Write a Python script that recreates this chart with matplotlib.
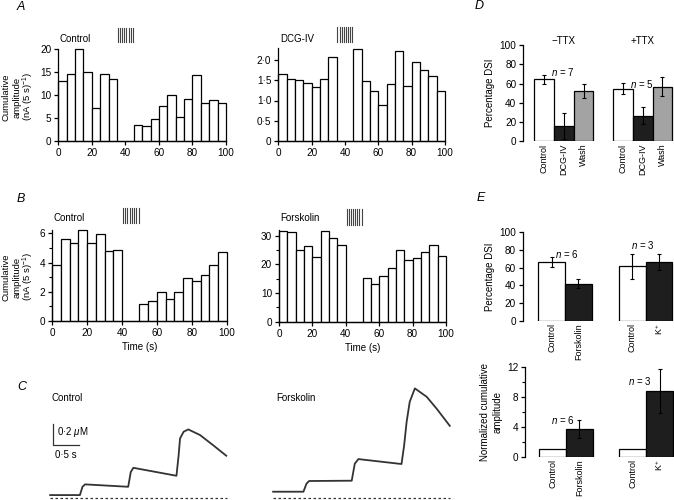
import numpy as np
import matplotlib
matplotlib.use("Agg")
import matplotlib.pyplot as plt
from matplotlib.ticker import FixedLocator

plt.rcParams['font.family'] = ['Liberation Sans', 'DejaVu Sans']
plt.rcParams['mathtext.fontset'] = 'custom'
plt.rcParams['mathtext.rm'] = 'Liberation Sans'
plt.rcParams['mathtext.it'] = 'Liberation Sans:italic'
plt.rcParams['mathtext.default'] = 'regular'

# ---------------- data ----------------
bin_starts = [0, 5, 10, 15, 20, 25, 30, 35, 40, 45, 50, 55, 60, 65, 70, 75, 80, 85, 90, 95]
a_control = [13.0, 14.6, 20.0, 15.0, 7.2, 14.5, 13.5, 0, 0, 3.5, 3.2, 4.7, 7.6, 10.0, 5.3, 9.0, 14.4, 8.2, 8.9, 8.2]
a_dcg = [1.65, 1.54, 1.50, 1.43, 1.33, 1.52, 2.08, 0, 0, 2.28, 1.47, 1.23, 0.89, 1.40, 2.21, 1.36, 1.94, 1.75, 1.60, 1.24]
b_control = [3.83, 5.59, 5.32, 6.20, 5.34, 5.98, 4.79, 4.88, 0, 0, 1.14, 1.35, 2.00, 1.48, 1.96, 2.92, 2.71, 3.17, 3.81, 4.72]
b_forsk = [31.6, 31.4, 25.0, 26.5, 22.7, 31.6, 29.1, 26.9, 0, 0, 15.3, 13.0, 15.8, 18.6, 25.1, 21.4, 22.4, 24.4, 26.6, 23.0]
stim_a = [35.5, 36.8, 38.1, 39.4, 40.6, 41.9, 43.2, 44.5]
stim_b = [40.5, 41.8, 43.1, 44.4, 45.6, 46.9, 48.2, 49.5]

d_cats = ['Control', 'DCG-IV', 'Wash']
d_minus = [64.4, 16.0, 52.5]
d_minus_err = [4.5, 13.5, 7.3]
d_plus = [54.6, 26.4, 56.7]
d_plus_err = [5.5, 8.8, 10.1]

e_cats = ['Control', 'Forskolin', 'Control', 'K$^{+}$']
e_dsi = [66.4, 41.9, 61.5, 66.0]
e_dsi_err = [6.0, 5.3, 14.5, 9.0]
e_norm = [1.0, 3.72, 1.05, 8.8]
e_norm_err = [0.0, 1.2, 0.0, 3.0]

c_ctrl_t = [0.10, 0.68, 0.73, 0.78, 1.62, 1.67, 1.72, 2.56, 2.60, 2.63, 2.70, 2.79, 3.02, 3.27, 3.53]
c_ctrl_v = [0.031, 0.031, 0.11, 0.133, 0.110, 0.25, 0.291, 0.215, 0.40, 0.571, 0.635, 0.657, 0.603, 0.508, 0.406]
c_fsk_t = [0.10, 0.69, 0.75, 0.80, 1.63, 1.69, 1.76, 2.60, 2.65, 2.70, 2.76, 2.86, 3.09, 3.28, 3.54]
c_fsk_v = [0.063, 0.063, 0.14, 0.165, 0.168, 0.33, 0.374, 0.327, 0.50, 0.73, 0.92, 1.048, 0.968, 0.857, 0.691]

W, H = 674, 500
fig = plt.figure(figsize=(W / 100, H / 100), dpi=100)

def px_axes(l, t, r, b):
    return fig.add_axes([l / W, 1 - b / H, (r - l) / W, (b - t) / H])

def ftext(x, y, s, **kw):
    fig.text(x / W, 1 - y / H, s, **kw)

TICK = 7.2
LAB = 7
CAT = 6.5
NTXT = '$\\mathit{n}$ = '

def style_hist(ax, ymax, major, minor=None, fmt=None):
    ax.set_xlim(0, 100)
    ax.set_ylim(0, ymax)
    for s in ['top', 'right']:
        ax.spines[s].set_visible(False)
    for s in ['left', 'bottom']:
        ax.spines[s].set_linewidth(0.9)
    ax.set_xticks([0, 20, 40, 60, 80, 100])
    ax.set_yticks(major)
    if fmt:
        ax.set_yticklabels(fmt)
    if minor:
        ax.yaxis.set_minor_locator(FixedLocator(minor))
    ax.tick_params(direction='out', length=3, width=0.9, labelsize=TICK, pad=2)
    ax.tick_params(which='minor', direction='out', length=2, width=0.8)
    ax.patch.set_alpha(0)

def hist(ax, vals):
    ax.bar(bin_starts, vals, width=5, align='edge', color='white', edgecolor='black', linewidth=0.9, clip_on=False)

def stim(ax, times, y0, y1):
    for x in times:
        ax.plot([x, x], [y0, y1], color='#444444', lw=0.8, transform=ax.get_xaxis_transform(), clip_on=False)

# A control
ax = px_axes(58.3, 48.7, 226, 141)
hist(ax, a_control)
style_hist(ax, 20, [0, 5, 10, 15, 20])
stim(ax, stim_a, 1.073, 1.224)
ftext(59, 39, 'Control', fontsize=LAB, va='center')

# A DCG
ax = px_axes(278.3, 47.85, 445, 141)
hist(ax, a_dcg)
style_hist(ax, 2.3, [0, 0.5, 1.0, 1.5, 2.0], fmt=['0', '0·5', '1·0', '1·5', '2·0'])
stim(ax, stim_a, 1.06, 1.221)
ftext(280, 39, 'DCG-IV', fontsize=LAB, va='center')

# B control
ax = px_axes(52.3, 230.4, 226.7, 321)
hist(ax, b_control)
style_hist(ax, 6.2, [0, 2, 4, 6], minor=[1, 3, 5])
stim(ax, stim_b, 1.082, 1.247)
ax.set_xlabel('Time (s)', fontsize=LAB, labelpad=3)
ftext(54, 218.3, 'Control', fontsize=LAB, va='center')

# B forskolin
ax = px_axes(279, 230, 446, 321.7)
hist(ax, b_forsk)
style_hist(ax, 32, [0, 10, 20, 30], minor=[5, 15, 25])
stim(ax, stim_b, 1.058, 1.232)
ax.set_xlabel('Time (s)', fontsize=LAB, labelpad=3)
ftext(280.7, 218.3, 'Forskolin', fontsize=LAB, va='center')

ylab_lines = ['Cumulative', 'amplitude', '(nA (5 s)$^{-1}$)']
for yc in (97, 277):
    for xc, s in zip((6.3, 17.0, 28.5), ylab_lines):
        ftext(xc, yc, s, fontsize=6.8, rotation=90, ha='center', va='center')

# panel letters
for x, y, s in [(20.7, 7, 'A'), (20.7, 199, 'B'), (21.7, 387, 'C'), (479, 6, 'D'), (481, 198, 'E')]:
    ftext(x, y, s, fontsize=9, style='italic', ha='center', va='center')

def style_bar(ax, ymax, major, minor=None):
    ax.set_ylim(0, ymax)
    for s in ['top', 'right', 'bottom']:
        ax.spines[s].set_visible(False)
    ax.spines['left'].set_linewidth(0.9)
    ax.set_yticks(major)
    if minor:
        ax.yaxis.set_minor_locator(FixedLocator(minor))
    ax.tick_params(axis='y', direction='out', length=3, width=0.9, labelsize=TICK, pad=2)
    ax.tick_params(axis='y', which='minor', direction='out', length=2, width=0.8)
    ax.tick_params(axis='x', length=0, labelsize=CAT, pad=2)
    ax.patch.set_alpha(0)

EB = dict(fmt='none', ecolor='black', elinewidth=0.8, capsize=1.5, capthick=0.8)

# D
ax = px_axes(523.3, 45.3, 674, 141)
dcol = ['white', '#1e1e1e', '#a3a3a3']
pos1 = [0.5, 1.5, 2.5]
pos2 = [4.5, 5.5, 6.5]
ax.bar(pos1, d_minus, width=1, color=dcol, edgecolor='black', linewidth=0.9)
ax.bar(pos2, d_plus, width=1, color=dcol, edgecolor='black', linewidth=0.9)
ax.errorbar(pos1, d_minus, yerr=d_minus_err, **EB)
ax.errorbar(pos2, d_plus, yerr=d_plus_err, **EB)
ax.set_xlim(-0.56, 7.09)
ax.set_xticks(pos1 + pos2)
ax.set_xticklabels(d_cats + d_cats, rotation=90, va='top')
style_bar(ax, 100, [0, 20, 40, 60, 80, 100])
ax.set_ylabel('Percentage DSI', fontsize=LAB, labelpad=3)
ax.text(1.5, 104.8, '\u2212TTX', fontsize=LAB, ha='center', va='center', clip_on=False)
ax.text(5.5, 104.8, '+TTX', fontsize=LAB, ha='center', va='center', clip_on=False)
ax.text(1.43, 72, NTXT + '7', fontsize=LAB, ha='center', va='center')
ax.text(5.45, 60, NTXT + '5', fontsize=LAB, ha='center', va='center')

# E top
ecol = ['white', '#1e1e1e', 'white', '#1e1e1e']
epos = [0.5, 1.5, 3.5, 4.5]
ax = px_axes(522.7, 232.3, 674, 320.7)
ax.bar(epos, e_dsi, width=1, color=ecol, edgecolor='black', linewidth=0.9)
ax.errorbar(epos, e_dsi, yerr=e_dsi_err, **EB)
ax.set_xlim(-0.58, 5.06)
ax.set_xticks(epos)
ax.set_xticklabels(e_cats, rotation=90, va='top')
style_bar(ax, 100, [0, 20, 40, 60, 80, 100])
ax.set_ylabel('Percentage DSI', fontsize=LAB, labelpad=3)
ax.text(1.05, 76, NTXT + '6', fontsize=LAB, ha='center', va='center')
ax.text(3.9, 86, NTXT + '3', fontsize=LAB, ha='center', va='center')

# E bottom
ax = px_axes(525, 367.3, 674, 456.7)
ax.bar(epos, e_norm, width=1, color=ecol, edgecolor='black', linewidth=0.9)
ax.errorbar([epos[1], epos[3]], [e_norm[1], e_norm[3]], yerr=[e_norm_err[1], e_norm_err[3]], **EB)
ax.set_xlim(-0.535, 5.04)
ax.set_xticks(epos)
ax.set_xticklabels(e_cats, rotation=90, va='top')
style_bar(ax, 12, [0, 4, 8, 12], minor=[2, 6, 10])
ax.set_ylabel('Normalized cumulative\namplitude', fontsize=LAB, labelpad=3, linespacing=1.3)
ax.text(0.89, 4.9, NTXT + '6', fontsize=LAB, ha='center', va='center')
ax.text(3.77, 10.1, NTXT + '3', fontsize=LAB, ha='center', va='center')

# C traces
def trace_axes(left):
    a = px_axes(left, 380, left + 190, 500)
    a.set_xlim(0, 3.70)
    a.set_ylim(-0.016, 1.128)
    a.axis('off')
    return a

ax = trace_axes(45)
ax.plot(c_ctrl_t, c_ctrl_v, color='#333333', lw=1.3, solid_joinstyle='round')
ax.plot([0.10, 3.54], [0, 0], color='#333333', lw=0.9, ls=(0, (2, 2)))
ax.plot([0.16, 0.16, 0.66], [0.708, 0.508, 0.508], color='#333333', lw=0.9)
ax.text(0.23, 0.63, '0·2 $\\mathit{\\mu}$M', fontsize=LAB, va='center')
ax.text(0.19, 0.41, '0·5 s', fontsize=LAB, va='center')
ftext(52, 398, 'Control', fontsize=LAB, va='center')

ax = trace_axes(268)
ax.plot(c_fsk_t, c_fsk_v, color='#333333', lw=1.3, solid_joinstyle='round')
ax.plot([0.10, 3.54], [0, 0], color='#333333', lw=0.9, ls=(0, (2, 2)))
ftext(276.7, 398.3, 'Forskolin', fontsize=LAB, va='center')

fig.savefig('out.png', dpi=100)
